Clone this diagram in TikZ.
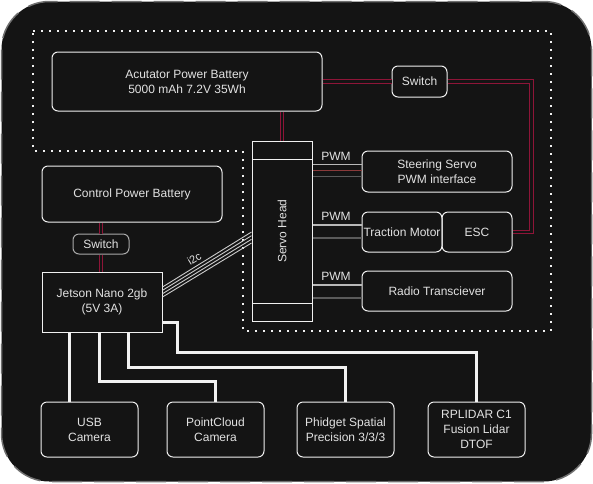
\documentclass[tikz,border=0pt]{standalone}
\usepackage{fontspec}
\setmainfont{Liberation Sans}
\usetikzlibrary{calc}
\definecolor{bgblack}{HTML}{141414}
\definecolor{edgegrey}{HTML}{707070}
\definecolor{boxline}{HTML}{F0F0F0}
\definecolor{txt}{HTML}{E2E2E2}
\definecolor{swgrey}{HTML}{AAAAAA}
\definecolor{pwr}{HTML}{8E1538}
\definecolor{wirelight}{HTML}{B8B8B8}
\definecolor{wirered}{HTML}{8A3A3A}
\definecolor{wiredark}{HTML}{5A5A5A}
\definecolor{usbline}{HTML}{F2F2F2}
\tikzset{
  box/.style={draw=boxline, line width=1pt, rounded corners=6pt, text=txt, align=center, inner sep=0pt},
  sbox/.style={draw=boxline, line width=1pt, text=txt, align=center, inner sep=0pt},
  power/.style={draw=pwr, line width=0.9pt, double=bgblack, double distance=2.6pt},
  wirelt/.style={draw=wirelight, line width=1.4pt},
  wirerd/.style={draw=wirered, line width=1.4pt},
  wiredk/.style={draw=wiredark, line width=1.4pt},
  i2cw/.style={draw=boxline!85!black, line width=0.9pt},
  usb/.style={draw=usbline, line width=3pt},
  dotline/.style={draw=boxline, line width=2pt, dash pattern=on 2pt off 6pt}
}
\begin{document}
\begin{tikzpicture}[x=1pt, y=-1pt, font=\fontsize{12pt}{15pt}\selectfont]
\useasboundingbox (0,0) rectangle (593,483);
% background
\draw[draw=edgegrey, line width=1.5pt, dash pattern=on 30pt off 12pt, fill=bgblack, rounded corners=48pt] (1.5,1.5) rectangle (591.5,481.5);
% actuator side
\draw[dotline] (33,31) -- (551,31) -- (551,331) -- (243,331) -- (243,151) -- (33,151) -- cycle;

\node[box, minimum width=270pt, minimum height=59pt] (actbat) at (187,81.5) {Acutator Power Battery\\5000 mAh 7.2V 35Wh};
\node[box, minimum width=55pt, minimum height=31pt] (topsw) at (419.5,81.5) {Switch};
\node[sbox, minimum width=60pt, minimum height=18pt] (servotop) at (282,150) {};
\node[sbox, minimum width=60pt, minimum height=144pt, label={[rotate=90, text=txt]center:Servo Head}] (servomid) at (282,231) {};
\node[sbox, minimum width=60pt, minimum height=18pt] (servobot) at (282,312) {};
\node[box, minimum width=150pt, minimum height=41pt] (steer) at (437,171.5) {Steering Servo\\PWM interface};
\node[box, minimum width=80pt, minimum height=40pt] (tmotor) at (402,232) {Traction Motor};
\node[box, minimum width=70pt, minimum height=40pt] (esc) at (477,232) {ESC};
\node[box, minimum width=150pt, minimum height=40pt] (radio) at (437,291) {Radio Transciever};
\node[text=txt] (pwmsteer) at (336,156) {PWM};
\node[text=txt] (pwmmotor) at (336,216) {PWM};
\node[text=txt] (pwmradio) at (336,276) {PWM};

% control side
\node[box, minimum width=180pt, minimum height=56pt] (cbat) at (132,194) {Control Power Battery};
\node[box, draw=swgrey, minimum width=56pt, minimum height=20pt] (ctrlsw) at (101,244) {Switch};
\node[sbox, minimum width=120pt, minimum height=60pt] (jetson) at (102,302) {Jetson Nano 2gb\\(5V 3A)};
\node[box, minimum width=97pt, minimum height=55pt] (usbcam) at (89.5,429.5) {USB\\Camera};
\node[box, minimum width=97pt, minimum height=55pt] (pcam) at (215.5,429.5) {PointCloud\\Camera};
\node[box, minimum width=97pt, minimum height=55pt] (phidget) at (345.5,429.5) {Phidget Spatial\\Precision 3/3/3};
\node[box, minimum width=97pt, minimum height=55pt] (lidar) at (476.5,429.5) {RPLIDAR C1\\Fusion Lidar\\DTOF};

% power lines
\draw[power] (actbat.east) -- (topsw.west);
\draw[power] (topsw.east) -- ++(84,0) |- (esc.east);
\draw[power] (servotop.north) -- (servotop.north |- actbat.south);
\draw[power] (ctrlsw.north) -- (ctrlsw.north |- cbat.south);
\draw[power] (ctrlsw.south) -- (ctrlsw.south |- jetson.north);

% pwm
\draw[wirelt] ($(steer.west)+(0,-7)$) -- ($(steer.west -| servomid.east)+(0,-7)$);
\draw[wirerd] ($(steer.west)+(0,-1)$) -- ($(steer.west -| servomid.east)+(0,-1)$);
\draw[wiredk] ($(steer.west)+(0,5)$) -- ($(steer.west -| servomid.east)+(0,5)$);
\draw[wirelt] ($(tmotor.west)+(0,-7)$) -- ($(tmotor.west -| servomid.east)+(0,-7)$);
\draw[wiredk] ($(tmotor.west)+(0,6)$) -- ($(tmotor.west -| servomid.east)+(0,6)$);
\draw[wirelt] ($(radio.west)+(0,-6)$) -- ($(radio.west -| servomid.east)+(0,-6)$);
\draw[wiredk] ($(radio.west)+(0,7)$) -- ($(radio.west -| servomid.east)+(0,7)$);

% i2c
\draw[i2cw] ($(jetson.east)+(0,-15)$) -- ($(servomid.west)+(0,1)$)
  node[pos=0.4, sloped, above=2pt, inner sep=1pt, text=txt, font=\fontsize{11pt}{13pt}\selectfont] (i2clbl) {i2c};
\draw[i2cw] ($(jetson.east)+(0,-11.7)$) -- ($(servomid.west)+(0,4.7)$);
\draw[i2cw] ($(jetson.east)+(0,-8.3)$) -- ($(servomid.west)+(0,8.3)$);
\draw[i2cw] ($(jetson.east)+(0,-5)$) -- ($(servomid.west)+(0,12)$);

% usb
\draw[usb] ($(jetson.south)+(-33,0)$) -- ($(usbcam.north)+(-20.5,0)$);
\draw[usb] ($(jetson.south)+(-3,0)$) -- ++(0,49) -| (pcam.north);
\draw[usb] ($(jetson.south)+(26,0)$) -- ++(0,35) -| (phidget.north);
\draw[usb] ($(jetson.east)+(0,20)$) -- ++(15,0) -- ++(0,30) -| (lidar.north);
\end{tikzpicture}
\end{document}
